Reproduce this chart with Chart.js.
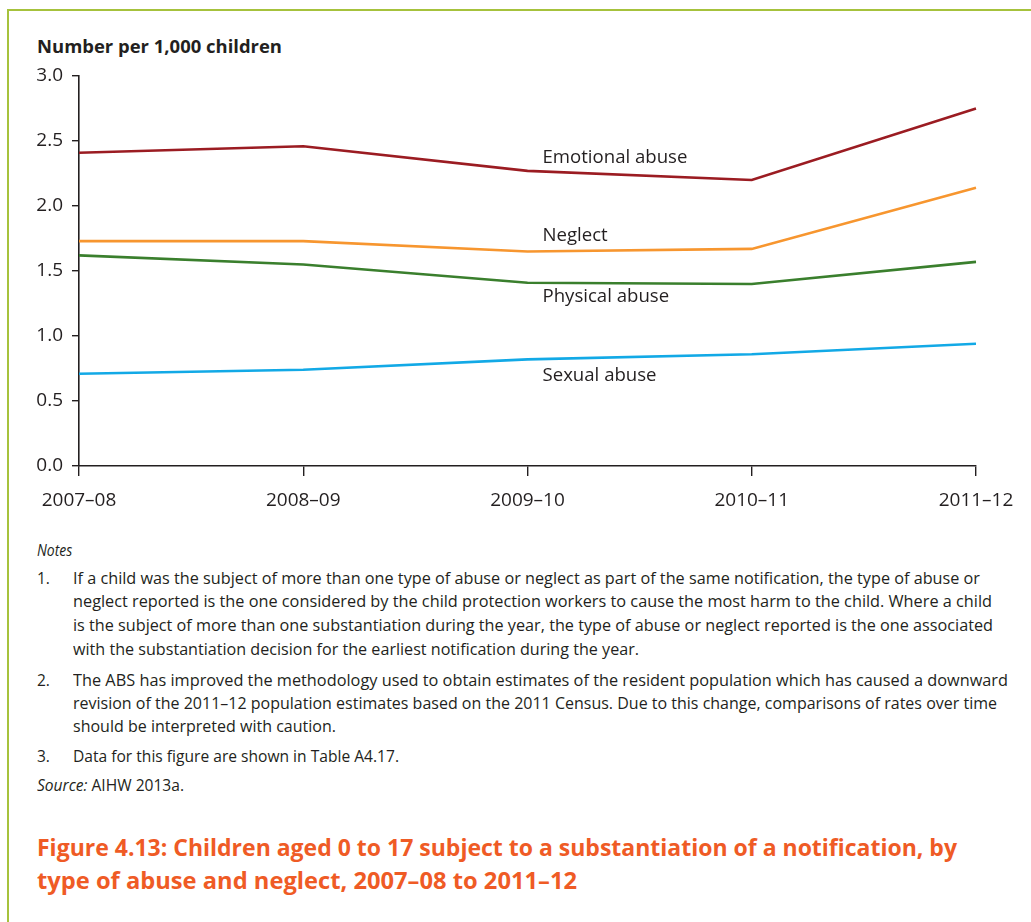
<!DOCTYPE html>
<html>
<head>
<meta charset="utf-8">
<script src="https://cdn.jsdelivr.net/npm/chart.js@4/dist/chart.umd.min.js"></script>
<style>
  html, body { margin: 0; padding: 0; background: #fff; }
  body { width: 1031px; height: 922px; position: relative; overflow: hidden; font-family: "Open Sans", sans-serif; color: #231f20; }
  .frame { position: absolute; left: 7px; top: 9px; width: 1040px; height: 930px; border-top: 2px solid #a6c23c; border-left: 2px solid #a6c23c; }
  #wrap { position: absolute; left: 0; top: 0; width: 1031px; height: 520px; }
  .t { position: absolute; white-space: nowrap; transform-origin: 0 50%; }
  .ytitle { font-weight: 700; font-size: 18.5px; line-height: 24px; }
  .note { font-size: 15.5px; line-height: 22px; }
  .fig { font-size: 24px; line-height: 32px; font-weight: 700; color: #ef5b25; }
</style>
</head>
<body>
<div class="frame"></div>
<div class="t ytitle" style="left:37px;top:34px" data-w="245">Number per 1,000 children</div>
<div id="wrap"><canvas id="c"></canvas></div>

<div class="t note" style="left:37px;top:539px;font-style:italic" data-k="0.9">Notes</div>

<div class="t note" style="left:37px;top:567px">1.</div>
<div class="t note" style="left:73px;top:567px" data-w="907">If a child was the subject of more than one type of abuse or neglect as part of the same notification, the type of abuse or</div>
<div class="t note" style="left:73px;top:590px" data-w="919">neglect reported is the one considered by the child protection workers to cause the most harm to the child. Where a child</div>
<div class="t note" style="left:73px;top:614px" data-w="920">is the subject of more than one substantiation during the year, the type of abuse or neglect reported is the one associated</div>
<div class="t note" style="left:73px;top:638px" data-w="566">with the substantiation decision for the earliest notification during the year.</div>

<div class="t note" style="left:37px;top:669px">2.</div>
<div class="t note" style="left:73px;top:669px" data-w="935">The ABS has improved the methodology used to obtain estimates of the resident population which has caused a downward</div>
<div class="t note" style="left:73px;top:692px" data-w="924">revision of the 2011–12 population estimates based on the 2011 Census. Due to this change, comparisons of rates over time</div>
<div class="t note" style="left:73px;top:715px" data-w="263">should be interpreted with caution.</div>

<div class="t note" style="left:37px;top:745px">3.</div>
<div class="t note" style="left:73px;top:745px" data-w="326">Data for this figure are shown in Table A4.17.</div>

<div class="t note" style="left:37px;top:774px" data-w="147"><i>Source:</i> AIHW 2013a.</div>

<div class="t fig" style="left:37px;top:831px" data-w="920">Figure 4.13: Children aged 0 to 17 subject to a substantiation of a notification, by</div>
<div class="t fig" style="left:37px;top:864px" data-w="540">type of abuse and neglect, 2007–08 to 2011–12</div>

<script>
// Financial years on the x axis
const years = ['2007–08', '2008–09', '2009–10', '2010–11', '2011–12'];

// Rates per 1,000 children, by type of abuse or neglect
const emotionalAbuse = [2.41, 2.46, 2.27, 2.20, 2.75];
const neglect        = [1.73, 1.73, 1.65, 1.67, 2.14];
const physicalAbuse  = [1.62, 1.55, 1.41, 1.40, 1.57];
const sexualAbuse    = [0.71, 0.74, 0.82, 0.86, 0.94];

// Y axis ticks
const yTicks = [0, 0.5, 1.0, 1.5, 2.0, 2.5, 3.0];

const seriesNames = ['Emotional abuse', 'Neglect', 'Physical abuse', 'Sexual abuse'];

// Styling for each series: colour and where its in-chart label sits
const seriesStyle = [
  { color: '#9b1c22', labelDy: -13.5 },
  { color: '#f7962f', labelDy: -16 },
  { color: '#3a7f2d', labelDy: 14 },
  { color: '#12a9e6', labelDy: 16 }
];

const seriesData = [emotionalAbuse, neglect, physicalAbuse, sexualAbuse];
const labelAnchorIndex = 2;

// Writes each series name beside its line, just after the 2009–10 point
const lineLabels = {
  id: 'lineLabels',
  afterDatasetsDraw(chart) {
    const { ctx, scales: { x, y } } = chart;
    ctx.save();
    ctx.font = '18.6px "Open Sans", sans-serif';
    ctx.fillStyle = '#231f20';
    ctx.textAlign = 'left';
    ctx.textBaseline = 'middle';
    chart.data.datasets.forEach((ds, i) => {
      const px = x.getPixelForValue(labelAnchorIndex) + 15;
      const py = y.getPixelForValue(ds.data[labelAnchorIndex]) + seriesStyle[i].labelDy;
      ctx.fillText(ds.label, px, py);
    });
    ctx.restore();
  }
};

const tickFont = { family: '"Open Sans", sans-serif', size: 19 };

new Chart(document.getElementById('c'), {
  type: 'line',
  data: {
    labels: years,
    datasets: seriesData.map((d, i) => ({
      label: seriesNames[i],
      data: d,
      borderColor: seriesStyle[i].color,
      backgroundColor: seriesStyle[i].color,
      borderWidth: 2.6,
      pointRadius: 0,
      tension: 0,
      fill: false
    }))
  },
  options: {
    responsive: true,
    maintainAspectRatio: false,
    animation: false,
    layout: { padding: { top: 76, right: 55, left: 0, bottom: 0 } },
    plugins: { legend: { display: false }, tooltip: { enabled: false } },
    scales: {
      x: {
        offset: false,
        grid: { drawOnChartArea: false, drawTicks: true, tickLength: 10, color: '#231f20', lineWidth: 1.4 },
        border: { display: true, color: '#231f20', width: 1.6 },
        ticks: { font: tickFont, color: '#231f20', padding: 13, maxRotation: 0, autoSkip: false },
        afterFit(scale) { scale.height = 54; }
      },
      y: {
        min: 0,
        max: 3,
        afterBuildTicks(scale) { scale.ticks = yTicks.map(v => ({ value: v })); },
        grid: { drawOnChartArea: false, drawTicks: true, tickLength: 7, color: '#231f20', lineWidth: 1.4 },
        border: { display: true, color: '#231f20', width: 1.6 },
        ticks: { font: tickFont, color: '#231f20', padding: 9, callback: v => v.toFixed(1) },
        afterFit(scale) { scale.width = 79; }
      }
    }
  },
  plugins: [lineLabels]
});

// Condense each text line to its set width (data-w) or by a set factor (data-k)
function fitText() {
  document.querySelectorAll('[data-w]').forEach(el => {
    const k = parseFloat(el.dataset.w) / el.getBoundingClientRect().width;
    el.style.transform = 'scaleX(' + k + ')';
  });
  document.querySelectorAll('[data-k]').forEach(el => {
    el.style.transform = 'scaleX(' + el.dataset.k + ')';
  });
}
if (document.fonts && document.fonts.ready) document.fonts.ready.then(fitText); else fitText();
</script>
</body>
</html>
